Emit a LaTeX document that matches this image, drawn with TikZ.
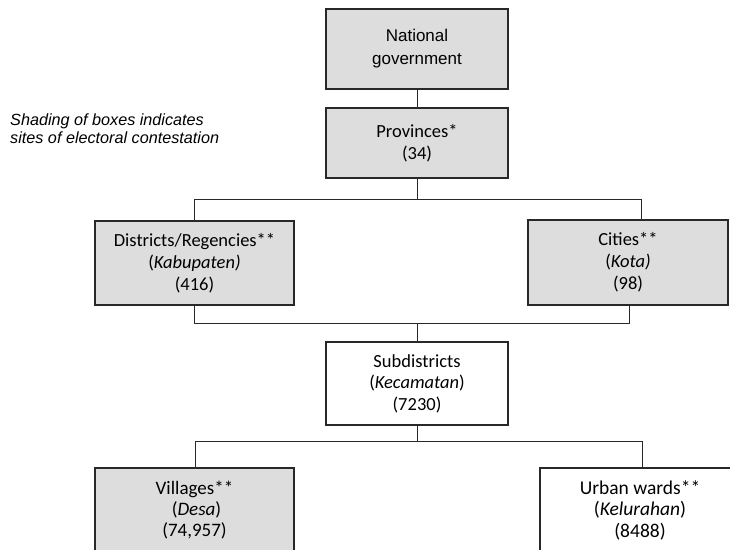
\documentclass[tikz,border=0pt]{standalone}
\usepackage{fontspec}
\setmainfont{Carlito}
\newfontfamily\arialf{Liberation Sans}
\definecolor{boxgray}{RGB}{221,221,221}
\definecolor{edgegray}{RGB}{40,40,40}
\tikzset{
  orgbox/.style={draw=edgegray, line width=1.2pt, rectangle, align=center, inner sep=0pt,
    font=\fontsize{18.5}{22}\selectfont},
  shaded/.style={orgbox, fill=boxgray},
  plain/.style={orgbox, fill=white},
  conn/.style={draw=edgegray, line width=1pt},
}
\begin{document}
\begin{tikzpicture}[x=1pt,y=1pt]
\useasboundingbox (0,0) rectangle (730,-549);
\clip (0,0) rectangle (730,-549);
\fill[white] (0,0) rectangle (730,-549);

% legend
\node[anchor=west, align=left, inner sep=0pt, font=\arialf\itshape\fontsize{16.2}{18}\selectfont]
  (legend) at (10,-129) {Shading of boxes indicates\\sites of electoral contestation};

% boxes
\node[shaded, minimum width=182pt, minimum height=80pt, font=\arialf\fontsize{17}{23}\selectfont]
  (nat) at (417,-49) {National\\government};
\node[shaded, minimum width=182pt, minimum height=70pt] (prov) at (417,-143) {Provinces*\\(34)};
\node[shaded, minimum width=199pt, minimum height=84pt] (dist) at (194.5,-263)
  {Districts/Regencies**\\(\textit{Kabupaten)}\\(416)};
\node[shaded, minimum width=200pt, minimum height=85pt] (cities) at (628,-262.5)
  {Cities**\\(\textit{Kota)}\\(98)};
\node[plain, minimum width=182pt, minimum height=83pt, font=\fontsize{18.5}{21.5}\selectfont] (sub) at (417,-383.5)
  {Subdistricts\\(\textit{Kecamatan})\\(7230)};
\node[shaded, minimum width=199pt, minimum height=84pt, font=\fontsize{19}{21}\selectfont] (vil) at (194.5,-510)
  {Villages**\\\hspace*{4pt}(\textit{Desa})\\(74,957)};
\node[plain, minimum width=200pt, minimum height=84pt, font=\fontsize{19.5}{21.5}\selectfont] (urb) at (640,-510)
  {Urban wards**\\(\textit{Kelurahan})\\(8488)};

% junction coordinates
\coordinate (j1) at (417,-199);
\coordinate (j2) at (417,-323);
\coordinate (j3) at (417,-441);

% connectors
\draw[conn] (nat.south) -- (prov.north);
\draw[conn] (prov.south) -- (j1);
\draw[conn] (j1) -| (dist.north);
\draw[conn] (j1) -| ([xshift=13pt]cities.north);
\draw[conn] (dist.south) |- (j2);
\draw[conn] ([xshift=1pt]cities.south) |- (j2);
\draw[conn] (j2) -- (sub.north);
\draw[conn] (sub.south) -- (j3);
\draw[conn] (j3) -| ([xshift=0.5pt]vil.north);
\draw[conn] (j3) -| ([xshift=2pt]urb.north);
\end{tikzpicture}
\end{document}
